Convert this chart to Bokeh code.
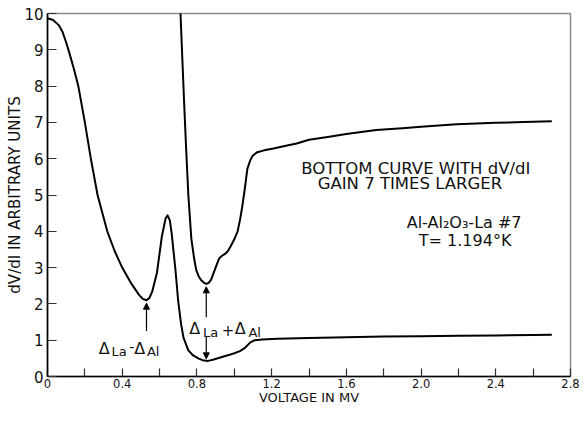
import numpy as np
from bokeh.plotting import figure
from bokeh.models import Range1d, FixedTicker, Label, Arrow, NormalHead, CustomJSTickFormatter
from bokeh.embed import file_html
from bokeh.resources import INLINE

# ---------------- data ----------------
lower_v = [0.0, 0.03, 0.06, 0.08, 0.10, 0.115, 0.14, 0.165, 0.20, 0.232, 0.268, 0.32, 0.36, 0.40,
           0.45, 0.49, 0.51, 0.53, 0.545, 0.56, 0.586, 0.612, 0.632, 0.643, 0.655, 0.665, 0.685,
           0.70, 0.715, 0.728, 0.754, 0.78, 0.807, 0.83, 0.86, 0.89, 0.93, 0.97, 1.0, 1.03, 1.055,
           1.086, 1.11, 1.15, 1.23, 1.4, 1.6, 1.8, 2.0, 2.2, 2.4, 2.6, 2.7]
lower_dvdi = [9.87, 9.82, 9.68, 9.5, 9.2, 8.95, 8.5, 8.0, 7.0, 6.0, 5.0, 4.0, 3.45, 3.0,
              2.55, 2.25, 2.14, 2.1, 2.16, 2.33, 2.86, 3.85, 4.35, 4.44, 4.3, 3.93, 2.94,
              2.06, 1.45, 1.07, 0.72, 0.58, 0.5, 0.45, 0.43, 0.47, 0.53, 0.59, 0.64, 0.7, 0.78,
              0.94, 1.0, 1.02, 1.04, 1.06, 1.08, 1.1, 1.11, 1.12, 1.13, 1.14, 1.15]

upper_v = [0.705, 0.712, 0.731, 0.742, 0.754, 0.77, 0.785, 0.796, 0.81, 0.823, 0.838, 0.85,
           0.863, 0.876, 0.89, 0.905, 0.92, 0.935, 0.949, 0.965, 0.98, 1.0, 1.018, 1.032, 1.044,
           1.057, 1.07, 1.085, 1.097, 1.11, 1.123, 1.16, 1.21, 1.27, 1.334, 1.40, 1.5, 1.6, 1.76,
           1.9, 2.0, 2.19, 2.4, 2.55, 2.7]
upper_dvdi = [10.5, 10.0, 7.6, 6.3, 5.0, 3.8, 3.25, 2.94, 2.75, 2.65, 2.58, 2.55,
              2.58, 2.67, 2.86, 3.07, 3.26, 3.33, 3.37, 3.45, 3.58, 3.78, 4.0, 4.35, 4.73,
              5.2, 5.72, 5.95, 6.07, 6.13, 6.18, 6.23, 6.28, 6.35, 6.42, 6.52, 6.6, 6.68, 6.79,
              6.84, 6.88, 6.95, 6.99, 7.01, 7.03]

x_major_ticks = [0, 0.4, 0.8, 1.2, 1.6, 2.0, 2.4, 2.8]
x_tick_labels = ["0", "0.4", "0.8", "1.2", "1.6", "2.0", "2.4", "2.8"]
x_minor_ticks = [0.2, 0.6, 1.0, 1.4, 1.8, 2.2, 2.6]
y_ticks = [0, 1, 2, 3, 4, 5, 6, 7, 8, 9, 10]
x_title = "VOLTAGE IN MV"
y_title = "dV/dI IN ARBITRARY UNITS"

FONT = "DejaVu Sans"

# ---------------- figure ----------------
p = figure(width=580, height=407, output_backend="svg", toolbar_location=None,
           x_range=Range1d(0, 2.8), y_range=Range1d(0, 10),
           min_border_left=47, min_border_right=10, min_border_top=13, min_border_bottom=26)
p.grid.visible = False
p.background_fill_color = "white"
p.border_fill_color = "white"
p.outline_line_color = "#8a8a8a"
p.outline_line_width = 1.5

for ax in (p.xaxis[0], p.yaxis[0]):
    ax.axis_line_color = "black"
    ax.axis_line_width = 1.6
    ax.major_tick_line_color = "#333333"
    ax.major_tick_line_width = 1.2
    ax.major_tick_out = 0
    ax.major_label_text_font = FONT
    ax.major_label_text_color = "#111111"
    ax.axis_label_text_font = FONT
    ax.axis_label_text_font_style = "normal"
    ax.axis_label_text_color = "#111111"

p.xaxis.axis_label = x_title
p.yaxis.axis_label = y_title

p.xaxis.ticker = FixedTicker(ticks=x_major_ticks, minor_ticks=x_minor_ticks)
p.xaxis.formatter = CustomJSTickFormatter(
    args=dict(xt=x_major_ticks, xl=x_tick_labels),
    code="const i = xt.findIndex(t => Math.abs(t - tick) < 1e-9); return i >= 0 ? xl[i] : '';")
p.xaxis.major_tick_in = 8
p.xaxis.minor_tick_in = 8
p.xaxis.minor_tick_out = 0
p.xaxis.minor_tick_line_color = "#333333"
p.xaxis.minor_tick_line_width = 1.2
p.xaxis.major_label_text_font_size = "11.5px"
p.xaxis.major_label_standoff = 2
p.xaxis.axis_label_text_font_size = "13px"
p.xaxis.axis_label_standoff = -1

p.yaxis.ticker = FixedTicker(ticks=y_ticks)
p.yaxis.major_tick_in = 9
p.yaxis.minor_tick_line_color = None
p.yaxis.major_label_text_font_size = "15px"
p.yaxis.major_label_standoff = 4
p.yaxis.axis_label_text_font_size = "15px"
p.yaxis.axis_label_standoff = -3

# curves
p.line(lower_v, lower_dvdi, line_color="black", line_width=2, line_join="round")
p.line(upper_v, upper_dvdi, line_color="black", line_width=2, line_join="round")

# helpers: reference-page pixel -> data
PXV = 531 / 2.8
PXD = 37.4


def dx(px):
    return (px - 47) / PXV


def dy(py):
    return (387 - py) / PXD


def txt(text, px, py, size, align="left", baseline="alphabetic"):
    p.add_layout(Label(x=dx(px), y=dy(py), text=text, text_align=align,
                       text_baseline=baseline, text_font=FONT,
                       text_font_size=f"{size}px", text_color="#111111"))


# label Δ_La - Δ_Al
txt("Δ", 99, 358, 16)
txt("La", 112, 361, 13)
txt("-", 130, 357, 14)
txt("Δ", 135, 358, 16)
txt("Al", 148, 361, 13)

# label Δ_La + Δ_Al
txt("Δ", 191, 338, 16)
txt("La", 205, 342, 13)
txt("+", 224, 339, 15)
txt("Δ", 237, 338, 16)
txt("Al", 251, 342, 13)

# text block
txt("BOTTOM CURVE WITH dV/dI", 421, 173, 16.5, align="center")
txt("GAIN 7 TIMES LARGER", 415, 188, 16.5, align="center")
txt("Al-Al₂O₃-La #7", 470, 228, 16, align="center")
txt("T= 1.194°K", 471, 247, 16, align="center")

# arrows derived from the data minima
lv = np.array(lower_v)
ld = np.array(lower_dvdi)
uv = np.array(upper_v)
ud = np.array(upper_dvdi)
mask = lv < 0.6
i1 = np.argmin(np.where(mask, ld, np.inf))
x1, y1 = lv[i1], ld[i1]
p.add_layout(Arrow(end=NormalHead(size=6, fill_color="black", line_color="black"),
                   x_start=x1, y_start=dy(340), x_end=x1, y_end=y1 - 0.08,
                   line_color="black", line_width=1.2))

i2 = np.argmin(ud)
x2, y2 = uv[i2], ud[i2]
y_low = float(np.interp(x2, lv, ld))
p.add_layout(Arrow(end=NormalHead(size=6, fill_color="black", line_color="black"),
                   x_start=x2, y_start=dy(326), x_end=x2, y_end=y2 - 0.08,
                   line_color="black", line_width=1.2))
p.add_layout(Arrow(end=NormalHead(size=6, fill_color="black", line_color="black"),
                   x_start=x2, y_start=dy(345), x_end=x2, y_end=y_low + 0.05,
                   line_color="black", line_width=1.2))

open("out.html", "w").write(file_html(p, INLINE))
